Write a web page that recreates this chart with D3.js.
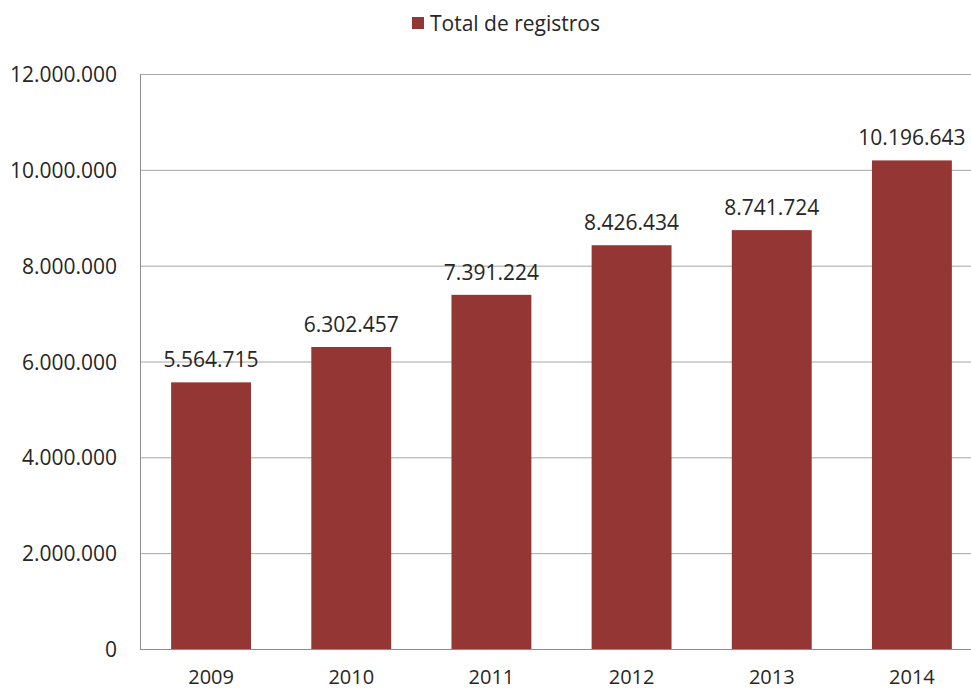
<!DOCTYPE html>
<html>
<head>
<meta charset="utf-8">
<script src="https://cdn.jsdelivr.net/npm/d3@7"></script>
<style>
  body { margin: 0; background: #fff; }
  svg { display: block; }
  text { font-family: "Open Sans", sans-serif; fill: #262626; }
</style>
</head>
<body>
<script>
svg_w = 971
svg_h = 690

var years = ["2009", "2010", "2011", "2012", "2013", "2014"]
var registros = [5564715, 6302457, 7391224, 8426434, 8741724, 10196643]
var yTicks = [0, 2000000, 4000000, 6000000, 8000000, 10000000, 12000000]
var seriesName = "Total de registros"

var barColor = "#943634"
var fmt = d3.formatLocale({decimal: ",", thousands: ".", grouping: [3], currency: ["", ""]}).format(",d")

var svg = d3.select("body")
        .append("svg")
        .attr("width", svg_w)
        .attr("height", svg_h)

var xscale = d3.scaleBand().domain(years).range([141, 982]).paddingInner(0.43).paddingOuter(0.215)
var yscale = d3.scaleLinear().domain([0, 12000000]).range([649, 74])

// gridlines
svg.selectAll("line.grid")
   .data(yTicks)
   .enter()
   .append("line")
   .attr("x1", 141)
   .attr("x2", svg_w)
   .attr("y1", d => yscale(d) + 0.5)
   .attr("y2", d => yscale(d) + 0.5)
   .attr("stroke", d => d == 0 ? "#8c8c8c" : "#a6a6a6")
   .attr("stroke-width", 1)

// y axis line
svg.append("line")
   .attr("x1", 140.5).attr("x2", 140.5)
   .attr("y1", yscale(12000000)).attr("y2", yscale(0) + 1)
   .attr("stroke", "#8c8c8c")

// tick labels
svg.selectAll("text.ytick")
   .data(yTicks)
   .enter()
   .append("text")
   .attr("x", 117)
   .attr("y", d => yscale(d) + 8)
   .attr("text-anchor", "end")
   .attr("font-size", 21)
   .text(d => fmt(d))

// bars
svg.selectAll("rect.bar")
   .data(registros)
   .enter()
   .append("rect")
   .attr("x", (d, i) => xscale(years[i]))
   .attr("y", d => yscale(d))
   .attr("width", xscale.bandwidth())
   .attr("height", d => yscale(0) - yscale(d))
   .attr("fill", barColor)

// value labels
svg.selectAll("text.val")
   .data(registros)
   .enter()
   .append("text")
   .attr("x", (d, i) => xscale(years[i]) + xscale.bandwidth() / 2)
   .attr("y", d => yscale(d) - 15)
   .attr("text-anchor", "middle")
   .attr("font-size", 21)
   .text(d => fmt(d))

// year labels
svg.selectAll("text.year")
   .data(years)
   .enter()
   .append("text")
   .attr("x", d => xscale(d) + xscale.bandwidth() / 2)
   .attr("y", 684)
   .attr("text-anchor", "middle")
   .attr("font-size", 20)
   .text(d => d)

// legend
svg.append("rect")
   .attr("x", 412).attr("y", 17)
   .attr("width", 12).attr("height", 12)
   .attr("fill", barColor)
svg.append("text")
   .attr("x", 430).attr("y", 31)
   .attr("font-size", 21)
   .text(seriesName)
</script>
</body>
</html>
